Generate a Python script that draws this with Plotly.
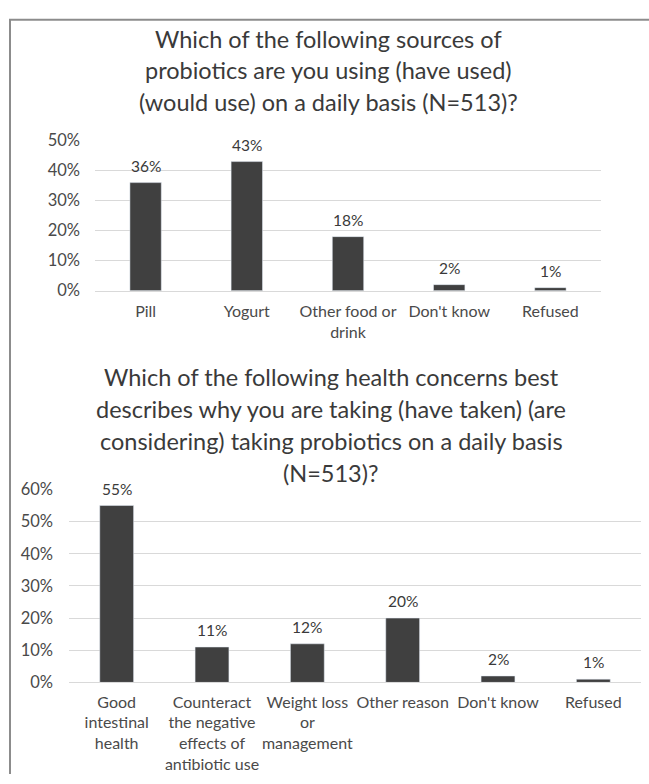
import plotly.graph_objects as go

W, H = 649, 784

# Chart 1 data
cats1 = ["Pill", "Yogurt", "Other food or<br>drink", "Don't know", "Refused"]
vals1 = [0.36, 0.43, 0.18, 0.02, 0.01]
labels1 = ["36%", "43%", "18%", "2%", "1%"]
title1 = ["Which of the following sources of",
          "probiotics are you using (have used)",
          "(would use) on a daily basis (N=513)?"]

# Chart 2 data
cats2 = ["Good<br>intestinal<br>health",
         "Counteract<br>the negative<br>effects of<br>antibiotic use",
         "Weight loss<br>or<br>management",
         "Other reason", "Don't know", "Refused"]
vals2 = [0.55, 0.11, 0.12, 0.20, 0.02, 0.01]
labels2 = ["55%", "11%", "12%", "20%", "2%", "1%"]
title2 = ["Which of the following health concerns best",
          "describes why you are taking (have taken) (are",
          "considering) taking probiotics on a daily basis",
          "(N=513)?"]

yticks1 = [0, 0.1, 0.2, 0.3, 0.4, 0.5]
yticks2 = [0, 0.1, 0.2, 0.3, 0.4, 0.5, 0.6]

FONT = "Lato"
BAR = "#404040"
TXT = "#3a3a3a"
TICK = "#4a4a4a"
GRID = "#d9d9d9"

def px_x(x):
    return x / W

def px_y(y):
    return 1 - y / H

fig = go.Figure()
fig.add_trace(go.Bar(x=cats1, y=vals1, marker_color=BAR, xaxis="x", yaxis="y",
                     showlegend=False, width=0.31))
fig.add_trace(go.Bar(x=cats2, y=vals2, marker_color=BAR, xaxis="x2", yaxis="y2",
                     showlegend=False, width=0.355))

annotations = []
for c, v, t in zip(cats1, vals1, labels1):
    annotations.append(dict(x=c, y=v, xref="x", yref="y", text=t, showarrow=False,
                            yanchor="bottom", yshift=6,
                            font=dict(family=FONT, size=15.5, color=TXT)))
for c, v, t in zip(cats2, vals2, labels2):
    annotations.append(dict(x=c, y=v, xref="x2", yref="y2", text=t, showarrow=False,
                            yanchor="bottom", yshift=6,
                            font=dict(family=FONT, size=15.5, color=TXT)))

for i, line in enumerate(title1):
    annotations.append(dict(x=px_x(328), y=px_y(30 + 32 * i), xref="paper", yref="paper",
                            text=line, showarrow=False, xanchor="center", yanchor="middle",
                            font=dict(family=FONT, size=23.5, color=TXT)))
for i, line in enumerate(title2):
    annotations.append(dict(x=px_x(331), y=px_y(377 + 32.7 * i), xref="paper", yref="paper",
                            text=line, showarrow=False, xanchor="center", yanchor="middle",
                            font=dict(family=FONT, size=23.5, color=TXT)))

shapes = [
    dict(type="line", xref="paper", yref="paper", x0=px_x(9), x1=1.0, y0=px_y(10), y1=px_y(10),
         line=dict(color="#8c8c8c", width=2)),
    dict(type="line", xref="paper", yref="paper", x0=px_x(10), x1=px_x(10), y0=px_y(10), y1=0,
         line=dict(color="#8c8c8c", width=2)),
]

xaxis_font = dict(family=FONT, size=16, color=TICK)
yaxis_font = dict(family=FONT, size=16.5, color=TICK)

fig.update_layout(
    width=W, height=H,
    margin=dict(l=0, r=0, t=0, b=0),
    paper_bgcolor="white", plot_bgcolor="white",
    bargap=0.6,
    annotations=annotations,
    shapes=shapes,
    xaxis=dict(domain=[px_x(95), px_x(601)], anchor="y", showgrid=False,
               showline=True, linecolor=GRID, linewidth=1, ticks="",
               tickfont=xaxis_font, ticklabelstandoff=6, fixedrange=True),
    yaxis=dict(domain=[px_y(288), px_y(134)], anchor="x", range=[0, 0.5],
               tickvals=yticks1, tickformat=".0%", showgrid=True, gridcolor=GRID,
               gridwidth=1, zeroline=False, showline=False, tickfont=yaxis_font,
               ticklabelstandoff=14),
    xaxis2=dict(domain=[px_x(69), px_x(641)], anchor="y2", showgrid=False,
                showline=True, linecolor=GRID, linewidth=1, ticks="",
                tickfont=xaxis_font, ticklabelstandoff=5),
    yaxis2=dict(domain=[px_y(690), px_y(492)], anchor="x2", range=[0, 0.6],
                tickvals=yticks2, tickformat=".0%", showgrid=True, gridcolor=GRID,
                gridwidth=1, zeroline=False, showline=False, tickfont=yaxis_font,
                ticklabelstandoff=15),
)

fig.write_html("out.html")
